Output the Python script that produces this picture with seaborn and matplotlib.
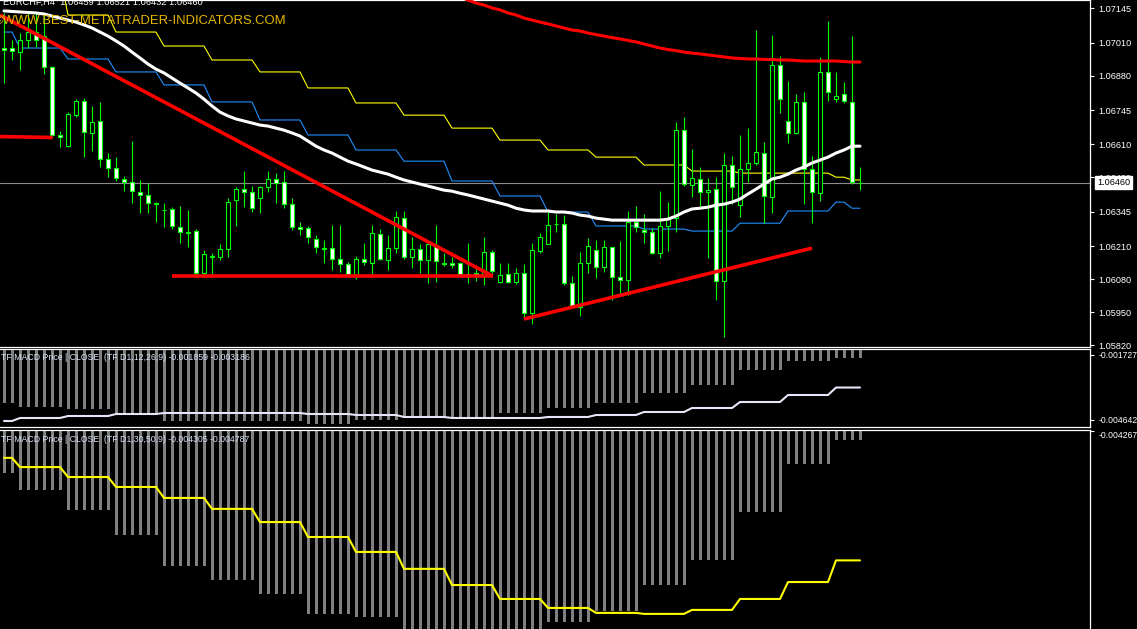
import numpy as np
import matplotlib.pyplot as plt
import seaborn as sns

# EURCHF H4 candles (oldest first)
open_ = [1.06989, 1.06989, 1.06973, 1.07021, 1.07052, 1.07036, 1.06914, 1.06647, 1.06603, 1.06725,
         1.06781, 1.06655, 1.06702, 1.06552, 1.06517, 1.06474, 1.06462, 1.06422, 1.06411, 1.06379,
         1.06352, 1.06356, 1.06285, 1.06265, 1.06269, 1.06104, 1.06167, 1.06167, 1.06198, 1.06391,
         1.06434, 1.06422, 1.06399, 1.06442, 1.06474, 1.06462, 1.06375, 1.06285, 1.06281, 1.06237,
         1.06202, 1.06202, 1.06159, 1.06139, 1.06096, 1.06159, 1.06143, 1.06257, 1.06155, 1.06202,
         1.06320, 1.06167, 1.06198, 1.06155, 1.06214, 1.06143, 1.06143, 1.06143, 1.06100, 1.06104,
         1.06096, 1.06186, 1.06068, 1.06100, 1.06068, 1.06104, 1.05946, 1.06190, 1.06218, 1.06297,
         1.06297, 1.06064, 1.05970, 1.06143, 1.06194, 1.06127, 1.06206, 1.06088, 1.06076, 1.06304,
         1.06273, 1.06265, 1.06182, 1.06289, 1.06320, 1.06666, 1.06450, 1.06474, 1.06422, 1.06434,
         1.06072, 1.06529, 1.06371, 1.06513, 1.06537, 1.06576, 1.06403, 1.06922, 1.06702, 1.06655,
         1.06777, 1.06513, 1.06418, 1.06895, 1.06788, 1.06808, 1.06777, 1.06459]
high_ = [1.07127, 1.07021, 1.07048, 1.07127, 1.07127, 1.07119, 1.06918, 1.06662, 1.06737, 1.06788,
         1.06792, 1.06761, 1.06777, 1.06576, 1.06560, 1.06485, 1.06623, 1.06470, 1.06458, 1.06383,
         1.06379, 1.06363, 1.06367, 1.06352, 1.06277, 1.06194, 1.06182, 1.06218, 1.06399, 1.06442,
         1.06505, 1.06446, 1.06446, 1.06505, 1.06497, 1.06505, 1.06399, 1.06304, 1.06289, 1.06253,
         1.06234, 1.06293, 1.06293, 1.06147, 1.06171, 1.06222, 1.06293, 1.06277, 1.06253, 1.06348,
         1.06348, 1.06245, 1.06218, 1.06222, 1.06293, 1.06182, 1.06167, 1.06147, 1.06222, 1.06127,
         1.06245, 1.06194, 1.06143, 1.06143, 1.06123, 1.06139, 1.06222, 1.06261, 1.06344, 1.06336,
         1.06332, 1.06092, 1.06186, 1.06241, 1.06234, 1.06234, 1.06206, 1.06230, 1.06348, 1.06367,
         1.06336, 1.06281, 1.06426, 1.06383, 1.06698, 1.06718, 1.06592, 1.06521, 1.06478, 1.06481,
         1.06576, 1.06564, 1.06647, 1.06674, 1.07060, 1.06619, 1.07040, 1.06958, 1.06859, 1.06808,
         1.06816, 1.06564, 1.06954, 1.07095, 1.06895, 1.06855, 1.07036, 1.06521]
low_ = [1.06851, 1.06942, 1.06903, 1.06989, 1.06993, 1.06887, 1.06639, 1.06600, 1.06600, 1.06718,
        1.06560, 1.06584, 1.06521, 1.06481, 1.06466, 1.06426, 1.06379, 1.06340, 1.06340, 1.06304,
        1.06285, 1.06277, 1.06222, 1.06206, 1.06096, 1.06096, 1.06096, 1.06155, 1.06167, 1.06289,
        1.06363, 1.06344, 1.06340, 1.06422, 1.06379, 1.06359, 1.06273, 1.06253, 1.06222, 1.06182,
        1.06143, 1.06115, 1.06108, 1.06096, 1.06080, 1.06135, 1.06096, 1.06155, 1.06115, 1.06182,
        1.06159, 1.06123, 1.06104, 1.06064, 1.06068, 1.06131, 1.06123, 1.06096, 1.06064, 1.06072,
        1.06056, 1.06104, 1.06064, 1.06064, 1.06060, 1.05931, 1.05903, 1.06182, 1.06218, 1.06265,
        1.06056, 1.05966, 1.05935, 1.06104, 1.06084, 1.06108, 1.05997, 1.06025, 1.06017, 1.06265,
        1.06222, 1.06178, 1.06163, 1.06190, 1.06265, 1.06446, 1.06403, 1.06363, 1.06163, 1.05997,
        1.05852, 1.06375, 1.06324, 1.06462, 1.06529, 1.06300, 1.06340, 1.06733, 1.06615, 1.06651,
        1.06375, 1.06300, 1.06387, 1.06781, 1.06777, 1.06773, 1.06454, 1.06432]
close_ = [1.06981, 1.06977, 1.07021, 1.07052, 1.07021, 1.06914, 1.06647, 1.06639, 1.06729, 1.06781,
          1.06659, 1.06698, 1.06552, 1.06517, 1.06478, 1.06462, 1.06426, 1.06411, 1.06379, 1.06375,
          1.06350, 1.06289, 1.06265, 1.06263, 1.06104, 1.06178, 1.06171, 1.06198, 1.06383, 1.06434,
          1.06422, 1.06359, 1.06442, 1.06474, 1.06458, 1.06375, 1.06285, 1.06277, 1.06245, 1.06206,
          1.06200, 1.06159, 1.06139, 1.06100, 1.06159, 1.06147, 1.06261, 1.06159, 1.06202, 1.06324,
          1.06167, 1.06198, 1.06155, 1.06218, 1.06151, 1.06141, 1.06135, 1.06100, 1.06098, 1.06096,
          1.06186, 1.06112, 1.06096, 1.06068, 1.06104, 1.05946, 1.06194, 1.06245, 1.06293, 1.06295,
          1.06064, 1.05970, 1.06143, 1.06210, 1.06127, 1.06206, 1.06088, 1.06076, 1.06304, 1.06285,
          1.06265, 1.06182, 1.06289, 1.06316, 1.06666, 1.06454, 1.06478, 1.06422, 1.06430, 1.06072,
          1.06529, 1.06442, 1.06513, 1.06537, 1.06580, 1.06407, 1.06922, 1.06788, 1.06655, 1.06777,
          1.06513, 1.06422, 1.06895, 1.06816, 1.06800, 1.06781, 1.06462, 1.06460]

# moving averages on the H4 bars
ma_fast = [1.07135, 1.07133, 1.07131, 1.07129, 1.07127, 1.07123, 1.07115, 1.07107, 1.07099, 1.07091,
           1.07080, 1.07068, 1.07052, 1.07036, 1.07017, 1.06997, 1.06973, 1.06950, 1.06926, 1.06906,
           1.06891, 1.06871, 1.06851, 1.06832, 1.06812, 1.06788, 1.06761, 1.06737, 1.06722, 1.06710,
           1.06702, 1.06694, 1.06686, 1.06682, 1.06674, 1.06666, 1.06655, 1.06643, 1.06623, 1.06603,
           1.06588, 1.06576, 1.06560, 1.06544, 1.06533, 1.06521, 1.06509, 1.06501, 1.06493, 1.06481,
           1.06470, 1.06462, 1.06454, 1.06446, 1.06438, 1.06430, 1.06426, 1.06418, 1.06411, 1.06403,
           1.06395, 1.06387, 1.06379, 1.06371, 1.06359, 1.06352, 1.06348, 1.06348, 1.06348, 1.06344,
           1.06344, 1.06340, 1.06332, 1.06328, 1.06320, 1.06316, 1.06312, 1.06312, 1.06312, 1.06312,
           1.06312, 1.06312, 1.06312, 1.06316, 1.06328, 1.06344, 1.06356, 1.06359, 1.06363, 1.06371,
           1.06375, 1.06383, 1.06395, 1.06415, 1.06434, 1.06454, 1.06474, 1.06481, 1.06493, 1.06509,
           1.06521, 1.06537, 1.06548, 1.06560, 1.06576, 1.06588, 1.06603, 1.06603]
ma_slow_from = 57
ma_slow = [1.07190, 1.07178, 1.07166, 1.07158, 1.07147, 1.07139, 1.07127, 1.07119, 1.07107, 1.07099,
           1.07091, 1.07084, 1.07076, 1.07068, 1.07060, 1.07056, 1.07048, 1.07042, 1.07036, 1.07030,
           1.07025, 1.07019, 1.07013, 1.07005, 1.06997, 1.06989, 1.06983, 1.06979, 1.06973, 1.06969,
           1.06966, 1.06962, 1.06958, 1.06954, 1.06950, 1.06948, 1.06946, 1.06946, 1.06944, 1.06944,
           1.06942, 1.06942, 1.06940, 1.06938, 1.06938, 1.06938, 1.06938, 1.06938, 1.06936, 1.06934,
           1.06934]

# daily (D1) indicator values, one per day block of H4 bars
day_sizes = [2] + [6] * 17 + [2, 2]
yellow_day = [1.07335, 1.07276, 1.07119, 1.07052, 1.06997, 1.06942, 1.06895, 1.06832, 1.06773, 1.06725,
              1.06674, 1.06627, 1.06588, 1.06560, 1.06529, 1.06505, 1.06497, 1.06497, 1.06481, 1.06470]
blue_day = [1.07052, 1.06989, 1.06946, 1.06895, 1.06844, 1.06777, 1.06706, 1.06647, 1.06588, 1.06544,
            1.06466, 1.06407, 1.06344, 1.06289, 1.06277, 1.06269, 1.06300, 1.06348, 1.06383, 1.06359]
macd1_hist = [-0.003880, -0.004059, -0.004149, -0.004328, -0.004687, -0.004687, -0.004687, -0.004821,
              -0.004642, -0.004552, -0.004507, -0.004328, -0.004104, -0.003880, -0.003431, -0.003072,
              -0.002400, -0.001990, -0.001859, -0.001859]
macd1_sig = [-0.004687, -0.004552, -0.004463, -0.004373, -0.004328, -0.004328, -0.004328, -0.004373,
             -0.004418, -0.004507, -0.004552, -0.004552, -0.004507, -0.004418, -0.004283, -0.004104,
             -0.003835, -0.003521, -0.003186, -0.003186]
macd2_hist = [-0.004436, -0.004504, -0.004584, -0.004685, -0.004809, -0.004866, -0.004922, -0.005002,
              -0.005014, -0.005086, -0.005107, -0.005086, -0.005034, -0.004990, -0.004886, -0.004785,
              -0.004592, -0.004400, -0.004305, -0.004305]
macd2_sig = [-0.004375, -0.004412, -0.004452, -0.004492, -0.004536, -0.004580, -0.004633, -0.004693,
             -0.004753, -0.004821, -0.004886, -0.004942, -0.004978, -0.004998, -0.005002, -0.004986,
             -0.004942, -0.004874, -0.004787, -0.004787]

# hand drawn trend lines: (bar0, price0, bar1, price1)
trend_lines = [(-0.5, 1.06641, 6.1, 1.06637),
               (-0.5, 1.07119, 61.1, 1.06092),
               (21.0, 1.06092, 61.1, 1.06092),
               (65.0, 1.05923, 101.0, 1.06202)]

price_ticks = [1.07145, 1.07010, 1.06880, 1.06745, 1.06610, 1.06480,
               1.06345, 1.06210, 1.06080, 1.05950, 1.05820]
macd1_ticks = [-0.001727, -0.004642]
macd2_ticks = [-0.004267]
last_price = 1.06460
header = "EURCHF,H4  1.06459 1.06521 1.06432 1.06460"
macd1_label = "TF MACD Price | CLOSE  (TF D1,12,26,9) -0.001859 -0.003186"
macd2_label = "TF MACD Price | CLOSE  (TF D1,30,50,9) -0.004305 -0.004787"
watermark = "\u00a9WWW.BEST-METATRADER-INDICATORS.COM"

# ------------------------------------------------------------------
sns.set_style("dark", {"axes.facecolor": "black", "figure.facecolor": "black"})
plt.rcParams['font.family'] = ['Liberation Sans', 'DejaVu Sans']

W, H = 1137, 629
LIME = '#00FF00'
fig = plt.figure(figsize=(W / 100, H / 100), dpi=100)
fig.patch.set_facecolor('black')

ax = fig.add_axes([0, (H - 346.5) / H, 1090 / W, 346.5 / H])
p1 = fig.add_axes([0, (H - 427) / H, 1090 / W, 78.5 / H])
p2 = fig.add_axes([0, -0.01, 1090 / W, (H - 429.5) / H + 0.01])

bars = np.arange(len(close_))
day_idx = np.repeat(np.arange(len(day_sizes)), day_sizes)

o, h, l, c = map(np.array, (open_, high_, low_, close_))
bear = c < o

# candles
ax.vlines(bars, l, h, color=LIME, lw=0.8, zorder=3)
ax.bar(bars, np.maximum(np.abs(c - o), 0.000005), bottom=np.minimum(o, c), width=0.55,
       color=np.where(bear, 'white', 'black'), edgecolor=LIME, linewidth=0.8, zorder=4)

# indicator lines
sns.lineplot(x=bars, y=np.array(yellow_day)[day_idx], ax=ax, color='#FFFF00', lw=0.8,
             estimator=None, sort=False, legend=False, zorder=2)
sns.lineplot(x=bars, y=np.array(blue_day)[day_idx], ax=ax, color='#1E90FF', lw=0.8,
             estimator=None, sort=False, legend=False, zorder=2)
sns.lineplot(x=bars, y=ma_fast, ax=ax, color='white', lw=2.2,
             estimator=None, sort=False, legend=False, zorder=5)
sns.lineplot(x=bars[ma_slow_from:], y=ma_slow, ax=ax, color='#FF0000', lw=2.2,
             estimator=None, sort=False, legend=False, zorder=5)
for x0, y0, x1, y1 in trend_lines:
    ax.plot([x0, x1], [y0, y1], color='#FF0000', lw=2.6, solid_capstyle='butt', zorder=6)
ax.axhline(last_price, color='#8C8C8C', lw=0.8, zorder=1)

# MACD panels
sub_panels = [(p1, macd1_hist, macd1_sig, '#E6E6FA', macd1_ticks),
              (p2, macd2_hist, macd2_sig, '#FFFF00', macd2_ticks)]
for pax, hist, sig, col, ticks in sub_panels:
    pax.bar(bars, np.array(hist)[day_idx], width=0.375, color='#808080',
            edgecolor='none', linewidth=0, zorder=2)
    sns.lineplot(x=bars, y=np.array(sig)[day_idx], ax=pax, color=col, lw=1.5,
                 estimator=None, sort=False, legend=False, zorder=3)
    pax.set_yticks(ticks)
    pax.set_yticklabels([f"{t:.6f}" for t in ticks])

ax.set_ylim(1.05815, 1.07178)
p1.set_ylim(-0.004956, -0.001436)
p2.set_ylim(-0.005088, -0.004261)
ax.set_yticks(price_ticks)
ax.set_yticklabels([f"{t:.5f}" for t in price_ticks])

for a in (ax, p1, p2):
    a.set_xlim(-0.5, 135.75)
    a.set_facecolor('black')
    a.set_xticks([])
    a.set_xlabel('')
    a.set_ylabel('')
    a.grid(False)
    a.yaxis.tick_right()
    a.tick_params(axis='y', colors='white', labelcolor='white', labelsize=6.6,
                  length=3, width=0.8, pad=3, direction='out')
    for side, sp in a.spines.items():
        sp.set_visible(side != 'left')
        sp.set_color('white')
        sp.set_linewidth(0.9)
for pax in (p1, p2):
    pax.tick_params(axis='y', labelsize=6.2, pad=3)
p2.spines['bottom'].set_visible(False)
for lab in p2.get_yticklabels():
    lab.set_verticalalignment('top')

# current price box
ax.annotate(f"{last_price:.5f}", xy=(1.0, last_price), xycoords=('axes fraction', 'data'),
            xytext=(5, 0), textcoords='offset points', va='center', ha='left',
            fontsize=6.6, color='black',
            bbox=dict(boxstyle='square,pad=0.25', fc='white', ec='white'), zorder=10)

# texts
fig.text(3 / W, 1 - 2 / H, header, color='white', fontsize=6.7, va='center', ha='left')
fig.text(-6 / W, 1 - 21 / H, watermark, color='#E6B800', fontsize=9.4, va='center', ha='left')
fig.text(1 / W, 1 - 357 / H, macd1_label, color='#D8E2F5', fontsize=6.3, va='center', ha='left')
fig.text(1 / W, 1 - 439 / H, macd2_label, color='#D8E2F5', fontsize=6.3, va='center', ha='left')

fig.savefig('out.png', dpi=100, facecolor='black')
